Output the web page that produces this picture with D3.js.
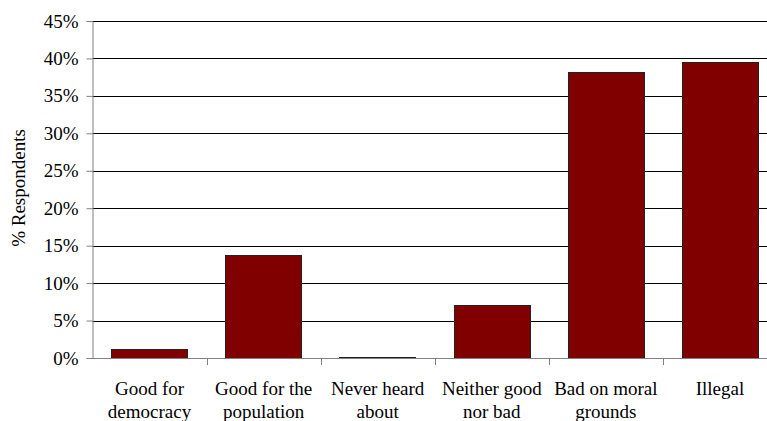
<!DOCTYPE html>
<html>
<head>
<meta charset="utf-8">
<script src="https://cdn.jsdelivr.net/npm/d3@7"></script>
<style>
  html, body { margin: 0; padding: 0; background: #fff; }
  svg { display: block; }
</style>
</head>
<body>
<svg id="chart" width="767" height="421"></svg>
<script>
// Survey answers and share of respondents (%)
const categories = [
  ["Good for", "democracy"],
  ["Good for the", "population"],
  ["Never heard", "about"],
  ["Neither good", "nor bad"],
  ["Bad on moral", "grounds"],
  ["Illegal"]
];
const values = [1.2, 13.8, 0.1, 7.1, 38.2, 39.5];
const yTicks = [0, 5, 10, 15, 20, 25, 30, 35, 40, 45];

const FONT = "'Liberation Serif'";
const FONT_SIZE = "19px";

const svg = d3.select("#chart");
const margin = { left: 92.5, top: 21, bottom: 358 };
const plotRight = 777;

const x = d3.scaleBand()
  .domain(d3.range(categories.length))
  .range([margin.left, plotRight])
  .paddingInner(0.33)
  .paddingOuter(0.165);

const xOuter = d3.scaleBand()
  .domain(d3.range(categories.length))
  .range([margin.left, plotRight]);

const y = d3.scaleLinear().domain([0, 45]).range([margin.bottom, margin.top]);

// Horizontal gridlines
svg.append("g")
  .selectAll("line")
  .data(yTicks.filter(d => d > 0))
  .join("line")
  .attr("x1", margin.left)
  .attr("x2", plotRight)
  .attr("y1", d => Math.round(y(d)) + 0.5)
  .attr("y2", d => Math.round(y(d)) + 0.5)
  .attr("stroke", "#000")
  .attr("stroke-width", 1);

// Bars
svg.append("g")
  .selectAll("rect")
  .data(values)
  .join("rect")
  .attr("x", (d, i) => Math.round(x(i)) + 0.5)
  .attr("width", Math.round(x.bandwidth()))
  .attr("y", d => Math.round(y(d)) + 0.5)
  .attr("height", d => Math.max(0.5, Math.round(y(0)) - Math.round(y(d))))
  .attr("fill", "#800000")
  .attr("stroke", "#222")
  .attr("stroke-width", 1);

// Y axis
const yAxis = d3.axisLeft(y)
  .tickValues(yTicks)
  .tickFormat(d => d + "%")
  .tickSize(6)
  .tickPadding(8);
const gy = svg.append("g")
  .attr("transform", `translate(${margin.left},0)`)
  .call(yAxis);
gy.attr("font-family", null).attr("font-size", null);
gy.select(".domain").attr("stroke", "#808080");
gy.selectAll(".tick line").attr("stroke", "#808080");
gy.selectAll(".tick text")
  .style("font-family", FONT)
  .style("font-size", FONT_SIZE)
  .attr("fill", "#000");

// X axis baseline and category separators
const gx = svg.append("g");
gx.append("line")
  .attr("x1", margin.left).attr("x2", plotRight)
  .attr("y1", Math.round(y(0)) + 0.5).attr("y2", Math.round(y(0)) + 0.5)
  .attr("stroke", "#808080");
gx.selectAll("line.sep")
  .data(d3.range(1, categories.length))
  .join("line")
  .attr("class", "sep")
  .attr("x1", i => Math.round(xOuter(i)) + 0.5)
  .attr("x2", i => Math.round(xOuter(i)) + 0.5)
  .attr("y1", Math.round(y(0)))
  .attr("y2", Math.round(y(0)) + 7)
  .attr("stroke", "#808080");

// Category labels
gx.selectAll("text.cat")
  .data(categories)
  .join("text")
  .attr("class", "cat")
  .attr("text-anchor", "middle")
  .style("font-family", FONT)
  .style("font-size", FONT_SIZE)
  .attr("fill", "#000")
  .attr("x", (d, i) => xOuter(i) + xOuter.bandwidth() / 2)
  .attr("y", 395)
  .selectAll("tspan")
  .data(d => d)
  .join("tspan")
  .attr("x", function() { return this.parentNode.getAttribute("x"); })
  .attr("dy", (d, j) => j === 0 ? 0 : 23)
  .text(d => d);

// Y axis title
svg.append("text")
  .attr("transform", "translate(25,188) rotate(-90)")
  .attr("text-anchor", "middle")
  .style("font-family", FONT)
  .style("font-size", FONT_SIZE)
  .attr("fill", "#000")
  .text("% Respondents");
</script>
</body>
</html>
